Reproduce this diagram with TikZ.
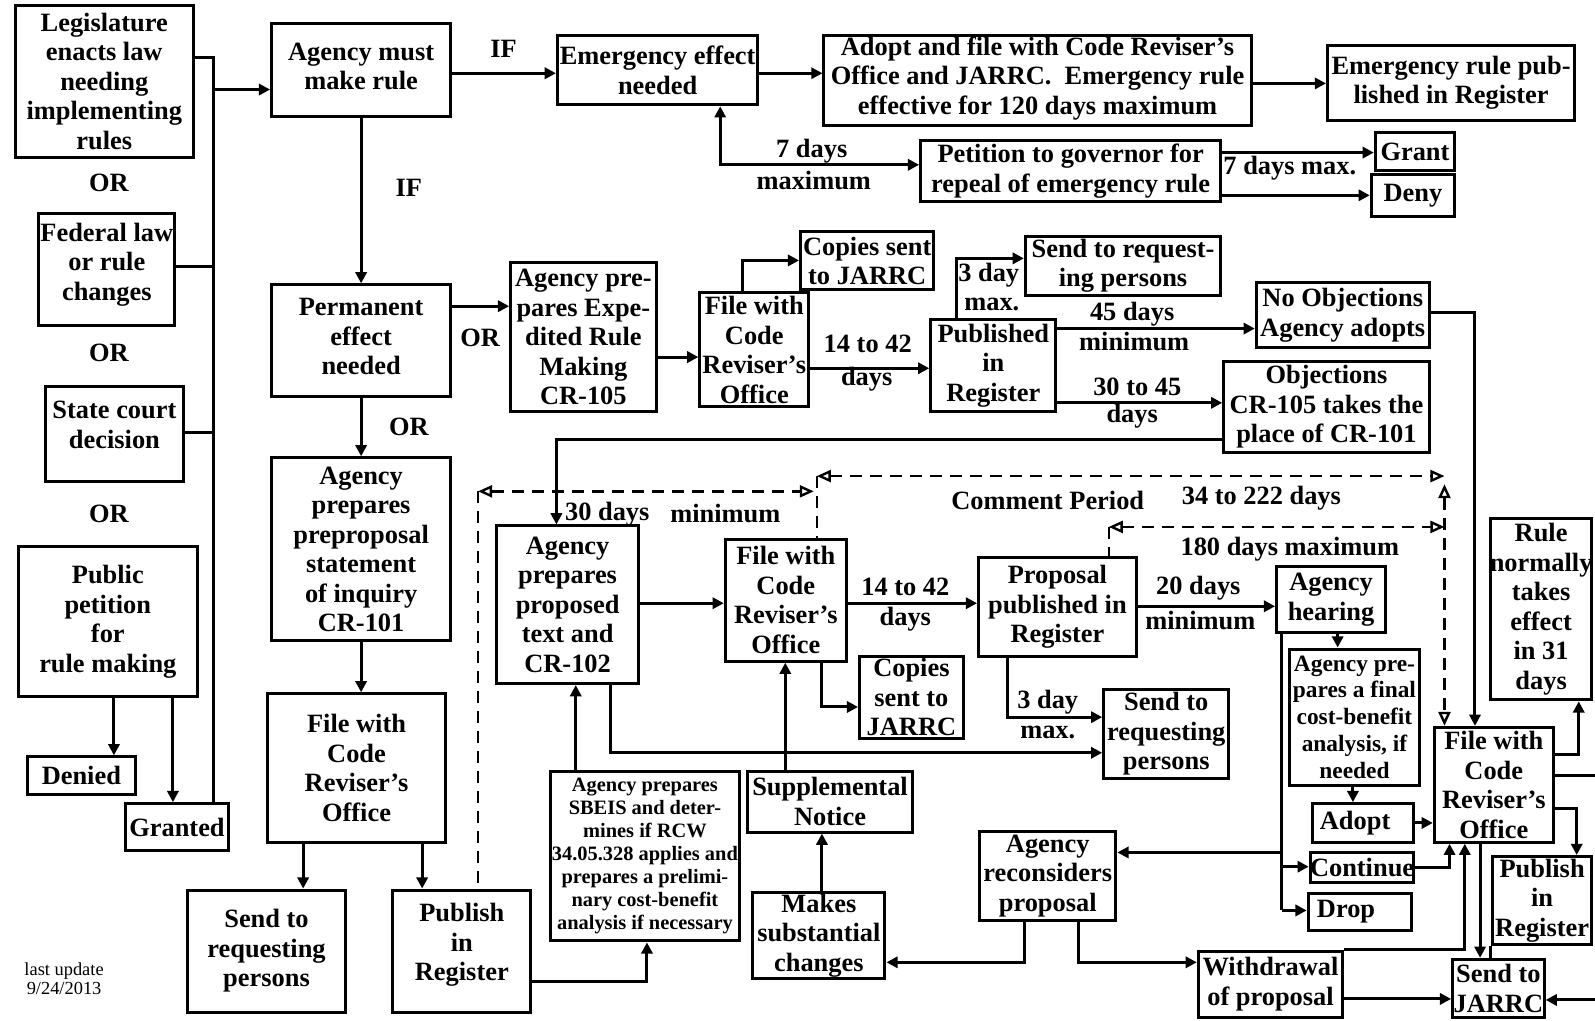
\documentclass[tikz,border=0pt]{standalone}
\usepackage{fontspec}
\setmainfont{Liberation Serif}
\usetikzlibrary{arrows.meta,fit}
\newcommand\bx[7][]{\node[box,fit={(#3,#4) (#5,#6)}] (#2) {};\node[txt,#1] (#2-t) at (#2.center) {#7};}
\begin{document}
\begin{tikzpicture}[x=0.5086pt,y=-0.5086pt,line width=1.5pt,
  box/.style={draw,line width=1.5pt,inner sep=0pt},
  txt/.style={align=center,inner sep=0pt,font=\fontsize{13.2}{14.75}\selectfont\bfseries},
  lbl/.style={align=center,inner sep=0pt,font=\fontsize{13.2}{14.75}\selectfont\bfseries},
  small/.style={font=\fontsize{11.7}{13.4}\selectfont\bfseries},
  tiny/.style={font=\fontsize{10.2}{11.5}\selectfont\bfseries},
  arr/.style={-{Triangle[length=5.6pt,width=5.6pt]}},
  darr/.style={{Triangle[length=5.6pt,width=5.6pt]}-{Triangle[length=5.6pt,width=5.6pt]}},
  dsh/.style={line width=1.2pt,dash pattern=on 6pt off 4pt},
  oarr/.style={{Triangle[open,length=7pt,width=6pt]}-{Triangle[open,length=7pt,width=6pt]}}]
\fill[white] (0,0) rectangle (1568,1003);
\useasboundingbox (0,0) rectangle (1568,1003);

% ---------- boxes ----------
\bx{leg}{15}{5}{190}{155}{Legislature\\enacts law\\needing\\implementing\\rules}
\bx[yshift=2.5pt]{fed}{38}{210}{172}{320}{Federal law\\or rule\\changes}
\bx[yshift=4.5pt]{state}{45}{380}{180}{473}{State court\\decision}
\bx{pub}{18}{537}{194}{685}{Public\\petition\\for\\rule making}
\bx{denied}{27}{744}{133}{781}{Denied}
\bx{granted}{123}{790}{225}{836}{Granted}
\bx[yshift=2pt]{amr}{267}{23}{443}{115}{Agency must\\make rule}
\bx[yshift=2pt]{perm}{267}{280}{443}{390}{Permanent\\effect\\needed}
\bx{pre}{267}{450}{443}{630}{Agency\\prepares\\preproposal\\statement\\of inquiry\\CR-101}
\bx{fcr1}{263}{682}{438}{828}{File with\\Code\\Reviser's\\Office}
\bx{send1}{184}{875}{340}{995}{Send to\\requesting\\persons}
\bx[yshift=3pt]{pub1}{386}{875}{522}{995}{Publish\\in\\Register}
\bx{eme}{548}{35}{745}{103}{Emergency effect\\needed}
\bx[yshift=1pt]{ado}{810}{35}{1230}{123}{Adopt and file with Code Reviser's\\Office and JARRC.\ \ Emergency rule\\effective for 120 days maximum}
\bx{erp}{1305}{45}{1548}{118}{Emergency rule pub-\\lished in Register}
\bx{pet}{905}{138}{1200}{198}{Petition to governor for\\repeal of emergency rule}
\bx{grant}{1352}{130}{1430}{168}{Grant}
\bx{deny}{1348}{172}{1430}{213}{Deny}
\bx{exp}{502}{258}{645}{405}{Agency pre-\\pares Expe-\\dited Rule\\Making\\CR-105}
\bx{fcr2}{688}{288}{795}{400}{File with\\Code\\Reviser's\\Office}
\bx{cop1}{787}{228}{918}{285}{Copies sent\\to JARRC}
\bx{pubR}{915}{314}{1038}{405}{Published\\in\\Register}
\bx{srp2}{1008}{232}{1200}{290}{Send to request-\\ing persons}
\bx{noobj}{1235}{278}{1405}{342}{No Objections\\Agency adopts}
\bx{obj}{1203}{355}{1405}{445}{Objections\\CR-105 takes the\\place of CR-101}
\bx{app}{488}{517}{628}{672}{Agency\\prepares\\proposed\\text and\\CR-102}
\bx{fcr4}{713}{530}{832}{650}{File with\\Code\\Reviser's\\Office}
\bx{cop2}{845}{645}{947}{726}{Copies\\sent to\\JARRC}
\bx{prop}{962}{548}{1117}{645}{Proposal\\published in\\Register}
\bx{hear}{1255}{557}{1362}{622}{Agency\\hearing}
\bx{srp3}{1085}{678}{1208}{765}{Send to\\requesting\\persons}
\bx[small]{fcba}{1268}{638}{1395}{772}{Agency pre-\\pares a final\\cost-benefit\\analysis, if\\needed}
\bx[xshift=-4pt]{adopt}{1290}{790}{1390}{828}{Adopt}
\bx{cont}{1288}{838}{1390}{868}{Continue}
\bx[xshift=-7pt]{drop}{1286}{878}{1388}{915}{Drop}
\bx{fcr3}{1410}{715}{1527}{828}{File with\\Code\\Reviser's\\Office}
\bx{rule}{1465}{510}{1565}{688}{Rule\\normally\\takes\\effect\\in 31\\days}
\bx{pubR2}{1467}{842}{1565}{928}{Publish\\in\\Register}
\bx{jarrc}{1428}{943}{1518}{1000}{Send to\\JARRC}
\bx{withdraw}{1178}{935}{1320}{1000}{Withdrawal\\of proposal}
\bx{recon}{963}{817}{1097}{905}{Agency\\reconsiders\\proposal}
\bx{makes}{740}{877}{870}{962}{Makes\\substantial\\changes}
\bx{supp}{735}{758}{897}{818}{Supplemental\\Notice}
\bx[tiny]{sbeis}{541}{758}{727}{925}{Agency prepares\\SBEIS and deter-\\mines if RCW\\34.05.328 applies and\\prepares a prelimi-\\nary cost-benefit\\analysis if necessary}

% ---------- labels ----------
\node[lbl] (or1) at (107,180) {OR};
\node[lbl] (or2) at (107,347) {OR};
\node[lbl] (or3) at (107,505) {OR};
\node[lbl] (if1) at (495,48) {IF};
\node[lbl] (if2) at (402,185) {IF};
\node[lbl] (or4) at (472,332) {OR};
\node[lbl] (or5) at (402,420) {OR};
\node[lbl] (l7da) at (798,149) {7 days};
\node[lbl] (l7db) at (800,177) {maximum};
\node[lbl] (l7m) at (1268,165) {7 days max.};
\node[lbl] (l1442a) at (853,338) {14 to 42};
\node[lbl] (l1442b) at (852,373) {days};
\node[lbl] (l3da) at (972,271) {3 day};
\node[lbl] (l3db) at (975,299) {max.};
\node[lbl] (l45a) at (1113,309) {45 days};
\node[lbl] (l45b) at (1115,336) {minimum};
\node[lbl] (l3045a) at (1118,380) {30 to 45};
\node[lbl] (l3045b) at (1113,409) {days};
\node[lbl] (l30) at (597,505) {30 days};
\node[lbl] (lmin) at (713,505) {minimum};
\node[lbl] (lcp) at (1030,492) {Comment Period};
\node[lbl] (l34) at (1240,490) {34 to 222 days};
\node[lbl] (l180) at (1268,540) {180 days maximum};
\node[lbl] (l1442c) at (890,577) {14 to 42};
\node[lbl] (l1442d) at (890,609) {days};
\node[lbl] (l20a) at (1178,578) {20 days};
\node[lbl] (l20b) at (1180,610) {minimum};
\node[lbl] (l3dc) at (1030,690) {3 day};
\node[lbl] (l3dd) at (1030,720) {max.};
\node[align=center,inner sep=0pt,font=\fontsize{9.2}{9.7}\selectfont] (upd) at (63,962) {last update\\9/24/2013};

% ---------- left bus ----------
\coordinate (bus) at (210,57);
\draw (leg.east |- bus) -| (granted.north -| bus);
\draw (fed.east |- 0,262) -- (bus |- 0,262);
\draw (state.east |- 0,425) -- (bus |- 0,425);
\draw[arr] (bus |- 0,88) -- (amr.west |- 0,88);
\draw[arr] (pub.south -| 112,0) -- (denied.north -| 112,0);
\draw[arr] (pub.south -| 170,0) -- (granted.north -| 170,0);

% ---------- main column ----------
\draw[arr] (amr.south) -- (perm.north);
\draw[arr] (perm.south) -- (pre.north);
\draw[arr] (pre.south -| 355,0) -- (fcr1.north -| 355,0);
\draw[arr] (fcr1.south -| 298,0) -- (send1.north -| 298,0);
\draw[arr] (fcr1.south -| 415,0) -- (pub1.north -| 415,0);

% ---------- emergency ----------
\draw[arr] (amr.east |- 0,72) -- (eme.west |- 0,72);
\draw[arr] (eme.east |- 0,72) -- (ado.west |- 0,72);
\draw[arr] (ado.east |- 0,82) -- (erp.west |- 0,82);
\draw[darr] (eme.south -| 708,0) |- (pet.west |- 0,162);
\draw[arr] (pet.east |- 0,150) -- (grant.west |- 0,150);
\draw[arr] (pet.east |- 0,192) -- (deny.west |- 0,192);

% ---------- expedited ----------
\draw[arr] (perm.east |- 0,301) -- (exp.west |- 0,301);
\draw[arr] (exp.east |- 0,351) -- (fcr2.west |- 0,351);
\draw[arr] (fcr2.north -| 730,0) |- (cop1.west |- 0,256);
\draw[arr] (fcr2.east |- 0,362) -- (pubR.west |- 0,362);
\draw[arr] (pubR.north -| 940,0) |- (srp2.west |- 0,254);
\draw[arr] (pubR.east |- 0,323) -- (noobj.west |- 0,323);
\draw[arr] (pubR.east |- 0,396) -- (obj.west |- 0,396);
\draw[arr] (obj.west |- 0,432) -| (app.north -| 547,0);
\draw[arr] (noobj.east |- 0,307) -| (fcr3.north -| 1450,0);

% ---------- proposal ----------
\draw[arr] (app.east |- 0,593) -- (fcr4.west |- 0,593);
\draw[arr] (fcr4.east |- 0,593) -- (prop.west |- 0,593);
\draw[arr] (fcr4.south -| 808,0) |- (cop2.west |- 0,695);
\draw[arr] (prop.east |- 0,596) -- (hear.west |- 0,596);
\draw[arr] (prop.south -| 990,0) |- (srp3.west |- 0,705);
\draw[arr] (app.south -| 600,0) |- (srp3.west |- 0,740);
\draw[arr] (hear.south -| 1315,0) -- (fcba.north -| 1315,0);
\draw[arr] (fcba.south -| 1330,0) -- (adopt.north -| 1330,0);
\coordinate (ht) at (1260,895);
\draw (hear.south -| ht) -- (ht);
\draw[arr] (ht |- 0,838) -- (recon.east |- 0,838);
\draw[arr] (ht |- 0,852) -- (cont.west |- 0,852);
\draw[arr] (ht) -- (drop.west |- ht);
\draw[arr] (adopt.east) -- (fcr3.west |- adopt.east);
\draw[arr] (cont.east) -| (fcr3.south -| 1425,0);
\draw[arr] (withdraw.north east) -| (fcr3.south -| 1440,0);
\draw[arr] (recon.south -| 1007,0) |- (makes.east |- 0,946);
\draw[arr] (recon.south -| 1060,0) |- (withdraw.west |- 0,946);
\draw[arr] (withdraw.east |- 0,982) -- (jarrc.west |- 0,982);
\draw[arr] (makes.north -| 808,0) -- (supp.south -| 808,0);
\draw[arr] (supp.north -| 772,0) -- (fcr4.south -| 772,0);
\draw[arr] (sbeis.north -| 566,0) -- (app.south -| 566,0);
\draw[arr] (pub1.east |- 0,965) -| (sbeis.south -| 636,0);

% ---------- right side ----------
\draw[arr] (fcr3.east |- 0,742) -| (rule.south -| 1552,0);
\coordinate (offA) at (1585,762);
\coordinate (offB) at (1585,983);
\draw[arr] (fcr3.east |- offA) -- (offA) -- (offB) -- (jarrc.east |- offB);
\draw[arr] (fcr3.east |- 0,795) -| (pubR2.north -| 1550,0);
\draw[arr] (fcr3.south -| 1455,0) -- (jarrc.north -| 1455,0);
\draw (pubR2.south west) -- (pubR2.south west |- jarrc.north);

% ---------- dashed periods ----------
\coordinate (d1L) at (470,483);
\coordinate (d1R) at (800,483);
\draw[dsh,oarr] (d1L) -- (d1R);
\draw[dsh] (d1L) -- (pub1.north -| d1L);
\coordinate (d2L) at (803,468);
\coordinate (d2R) at (1420,468);
\coordinate (d2V) at (1420,476);
\draw[dsh,oarr] (d2L) -- (d2R);
\draw[dsh] (d2L) -- (fcr4.north -| d2L);
\draw[dsh,oarr] (d2V) -- (fcr3.north -| d2V);
\coordinate (d3L) at (1090,518);
\coordinate (d3R) at (1420,518);
\draw[dsh,oarr] (d3L) -- (d3R);
\draw[dsh] (d3L) -- (prop.north -| d3L);
\end{tikzpicture}
\end{document}
